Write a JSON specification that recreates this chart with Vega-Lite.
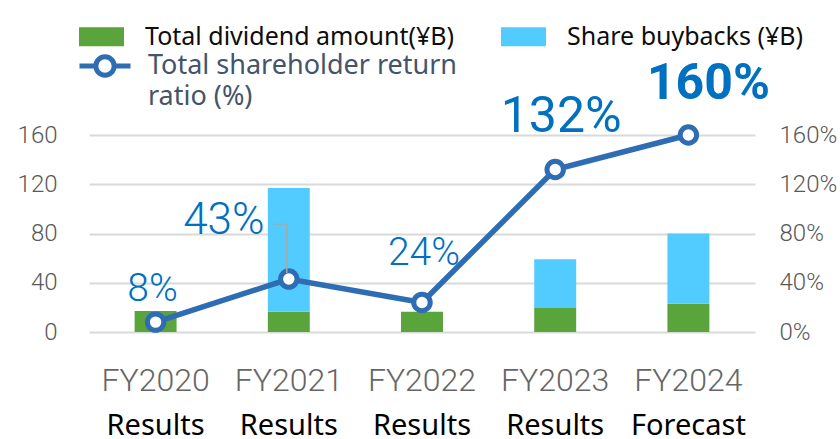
{
  "$schema": "https://vega.github.io/schema/vega-lite/v6.json",
  "width": 666,
  "height": 197,
  "autosize": {"type": "none"},
  "padding": {"left": 89, "top": 135, "right": 85, "bottom": 107},
  "background": "white",
  "config": {"view": {"stroke": null}, "font": "Roboto"},
  "datasets": {
    "bars": [
      {"year": "FY2020", "type": "Total dividend amount(¥B)", "value": 17},
      {"year": "FY2020", "type": "Share buybacks (¥B)", "value": 0},
      {"year": "FY2021", "type": "Total dividend amount(¥B)", "value": 16.5},
      {"year": "FY2021", "type": "Share buybacks (¥B)", "value": 100.5},
      {"year": "FY2022", "type": "Total dividend amount(¥B)", "value": 16.5},
      {"year": "FY2022", "type": "Share buybacks (¥B)", "value": 0},
      {"year": "FY2023", "type": "Total dividend amount(¥B)", "value": 19.5},
      {"year": "FY2023", "type": "Share buybacks (¥B)", "value": 39.5},
      {"year": "FY2024", "type": "Total dividend amount(¥B)", "value": 23},
      {"year": "FY2024", "type": "Share buybacks (¥B)", "value": 57}
    ],
    "ratio": [
      {"year": "FY2020", "ratio": 8, "label": "8%"},
      {"year": "FY2021", "ratio": 43, "label": "43%"},
      {"year": "FY2022", "ratio": 24, "label": "24%"},
      {"year": "FY2023", "ratio": 132, "label": "132%"},
      {"year": "FY2024", "ratio": 160, "label": "160%"}
    ]
  },
  "resolve": {
    "scale": {"x": "shared", "y": "shared"},
    "axis": {"x": "independent", "y": "independent"}
  },
  "layer": [
    {
      "data": {"name": "bars"},
      "mark": {"type": "bar"},
      "encoding": {
        "x": {
          "field": "year", "type": "nominal", "sort": null,
          "scale": {"paddingInner": 0.685, "paddingOuter": 0.3425},
          "axis": {"orient": "bottom", "title": null, "domain": false, "ticks": false, "labelAngle": 0,
                   "labelFont": "Roboto", "labelFontWeight": 300, "labelFontSize": 32, "labelColor": "#666666",
                   "labelPadding": 33, "labelOverlap": false}
        },
        "y": {
          "field": "value", "type": "quantitative", "stack": "zero",
          "scale": {"domain": [0, 160], "nice": false},
          "axis": {"orient": "left", "title": null, "values": [0, 40, 80, 120, 160], "domain": false, "ticks": false,
                   "grid": true, "gridColor": "#D9D9D9", "gridWidth": 2,
                   "labelFont": "Roboto", "labelFontWeight": 300, "labelFontSize": 24, "labelColor": "#595959",
                   "labelPadding": 32}
        },
        "color": {
          "field": "type", "type": "nominal",
          "scale": {"domain": ["Total dividend amount(¥B)", "Share buybacks (¥B)"], "range": ["#5AA53B", "#52CCFF"]},
          "legend": {"orient": "none", "legendX": -10, "legendY": -121, "direction": "horizontal", "title": null,
                     "symbolType": "M-1,-0.42H1V0.42H-1Z", "symbolSize": 2025, "symbolStrokeWidth": 0,
                     "labelFont": "Noto Sans", "labelFontSize": 25, "labelColor": "#0D0D0D",
                     "labelOffset": 21, "columnPadding": 46, "labelLimit": 500, "padding": 0}
        },
        "order": {"field": "type", "sort": "descending"}
      }
    },
    {
      "data": {"name": "ratio"},
      "mark": {"type": "line", "strokeWidth": 5.5},
      "encoding": {
        "x": {
          "field": "year", "type": "nominal", "sort": null,
          "axis": {"orient": "bottom", "title": null, "domain": false, "ticks": false, "labelAngle": 0, "grid": false,
                   "labelFont": "Noto Sans", "labelFontSize": 29, "labelColor": "#000000", "labelPadding": 79,
                   "labelOverlap": false,
                   "labelExpr": "datum.value == 'FY2024' ? 'Forecast' : 'Results'"}
        },
        "y": {
          "field": "ratio", "type": "quantitative",
          "scale": {"domain": [0, 160], "nice": false},
          "axis": {"orient": "right", "title": null, "values": [0, 40, 80, 120, 160], "domain": false, "ticks": false,
                   "grid": false, "labelExpr": "datum.value + '%'",
                   "labelFont": "Roboto", "labelFontWeight": 300, "labelFontSize": 24, "labelColor": "#595959",
                   "labelPadding": 24}
        },
        "stroke": {
          "datum": "Total shareholder return ratio (%)", "type": "nominal",
          "scale": {"range": ["#2E6DB4"]},
          "legend": {"orient": "none", "legendX": -12, "legendY": -97, "title": null,
                     "symbolType": "M-1,0H-0.36M0.36,0H1M-0.36,0A0.36,0.36,0,1,0,0.36,0A0.36,0.36,0,1,0,-0.36,0Z",
                     "symbolSize": 2601, "symbolStrokeWidth": 5, "symbolFillColor": "white",
                     "labelFont": "Noto Sans", "labelFontSize": 27, "labelColor": "#44546A",
                     "labelOffset": 15, "labelLimit": 500, "padding": 0,
                     "labelExpr": "['Total shareholder return', 'ratio (%)']",
                     "encode": {"labels": {"update": {"lineHeight": {"value": 31}}}}}
        }
      }
    },
    {
      "data": {"name": "ratio"},
      "mark": {"type": "point", "filled": true, "fill": "white", "stroke": "#2E6DB4", "strokeWidth": 5, "size": 270, "opacity": 1},
      "encoding": {
        "x": {"field": "year", "type": "nominal", "sort": null, "axis": null},
        "y": {"field": "ratio", "type": "quantitative", "axis": null}
      }
    },
    {
      "data": {"name": "ratio"},
      "transform": [{"filter": "datum.year == 'FY2021'"}],
      "mark": {"type": "rule", "color": "#A6A6A6", "strokeWidth": 1.5, "xOffset": -2},
      "encoding": {
        "x": {"field": "year", "type": "nominal", "sort": null, "axis": null},
        "y": {"datum": 87.5, "type": "quantitative", "axis": null},
        "y2": {"datum": 48}
      }
    },
    {
      "data": {"name": "ratio"},
      "transform": [{"filter": "datum.year == 'FY2021'"}],
      "mark": {"type": "tick", "orient": "horizontal", "color": "#A6A6A6", "thickness": 1.5, "size": 14, "xOffset": -9},
      "encoding": {
        "x": {"field": "year", "type": "nominal", "sort": null, "axis": null},
        "y": {"datum": 87.5, "type": "quantitative", "axis": null}
      }
    },
    {
      "data": {"name": "ratio"},
      "transform": [{"filter": "datum.year == 'FY2020'"}],
      "mark": {"type": "text", "color": "#0070C0", "font": "Roboto", "fontSize": 39, "fontWeight": 300, "baseline": "middle", "dx": -3, "dy": -33},
      "encoding": {
        "x": {"field": "year", "type": "nominal", "sort": null, "axis": null},
        "y": {"field": "ratio", "type": "quantitative", "axis": null},
        "text": {"field": "label"}
      }
    },
    {
      "data": {"name": "ratio"},
      "transform": [{"filter": "datum.year == 'FY2021'"}],
      "mark": {"type": "text", "color": "#0070C0", "font": "Roboto", "fontSize": 44, "fontWeight": 300, "baseline": "middle", "dx": -65, "dy": -58},
      "encoding": {
        "x": {"field": "year", "type": "nominal", "sort": null, "axis": null},
        "y": {"field": "ratio", "type": "quantitative", "axis": null},
        "text": {"field": "label"}
      }
    },
    {
      "data": {"name": "ratio"},
      "transform": [{"filter": "datum.year == 'FY2022'"}],
      "mark": {"type": "text", "color": "#0070C0", "font": "Roboto", "fontSize": 39, "fontWeight": 300, "baseline": "middle", "dx": 2, "dy": -49},
      "encoding": {
        "x": {"field": "year", "type": "nominal", "sort": null, "axis": null},
        "y": {"field": "ratio", "type": "quantitative", "axis": null},
        "text": {"field": "label"}
      }
    },
    {
      "data": {"name": "ratio"},
      "transform": [{"filter": "datum.year == 'FY2023'"}],
      "mark": {"type": "text", "color": "#0070C0", "font": "Roboto", "fontSize": 50, "fontWeight": 400, "baseline": "middle", "dx": 6, "dy": -52},
      "encoding": {
        "x": {"field": "year", "type": "nominal", "sort": null, "axis": null},
        "y": {"field": "ratio", "type": "quantitative", "axis": null},
        "text": {"field": "label"}
      }
    },
    {
      "data": {"name": "ratio"},
      "transform": [{"filter": "datum.year == 'FY2024'"}],
      "mark": {"type": "text", "color": "#0070C0", "font": "Roboto", "fontSize": 50, "fontWeight": "bold", "baseline": "middle", "dx": 20, "dy": -51},
      "encoding": {
        "x": {"field": "year", "type": "nominal", "sort": null, "axis": null},
        "y": {"field": "ratio", "type": "quantitative", "axis": null},
        "text": {"field": "label"}
      }
    }
  ]
}
